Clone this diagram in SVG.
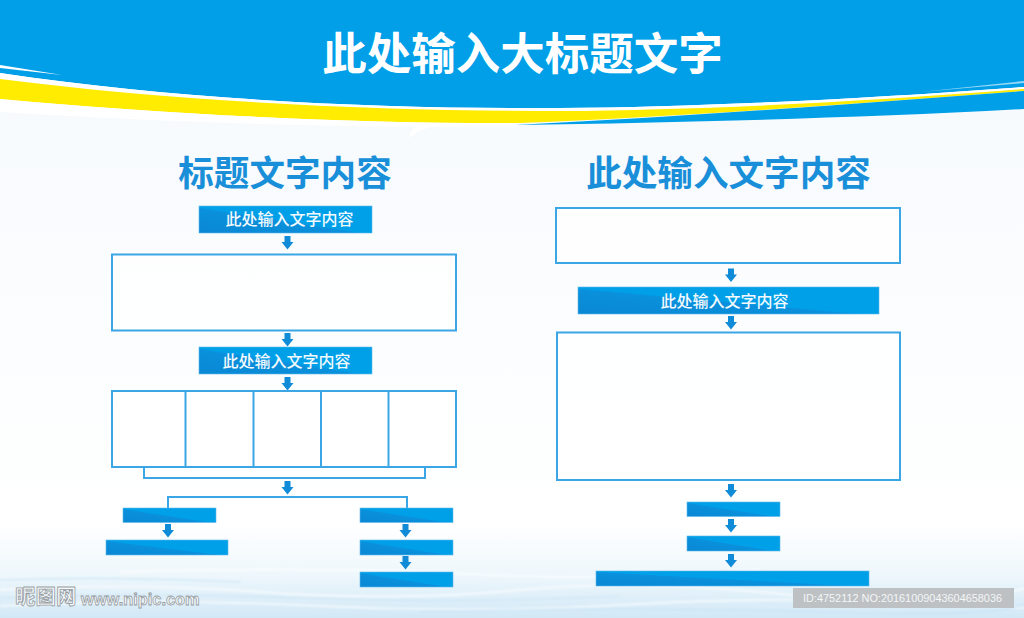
<svg xmlns="http://www.w3.org/2000/svg" width="1024" height="618" viewBox="0 0 1024 618">
<style>
text{font-family:"Noto Sans CJK SC","Liberation Sans",sans-serif}
.frame{fill:#ffffff;fill-opacity:.75;stroke:#3aa6e6;stroke-width:2}
.bar{fill:url(#barFill);stroke:#5fb9ec;stroke-width:.6}
.lbl{fill:#f2fafe;font-size:16px;font-weight:500;text-anchor:middle}
.head{fill:#1a8fd9;font-size:35.6px;font-weight:700;text-anchor:middle}
.line{fill:none;stroke:#3aa6e6;stroke-width:2}
.mark{fill:#f7fafc;stroke:#979da2;stroke-width:.8;font-weight:700}
</style>
<defs>
<linearGradient id="sky" x1="0" y1="0" x2="0" y2="1">
<stop offset="0" stop-color="#f5f9fd"/><stop offset=".5" stop-color="#fbfdfe"/><stop offset=".85" stop-color="#ffffff"/><stop offset=".93" stop-color="#eef7fc"/><stop offset="1" stop-color="#d2e8f6"/>
</linearGradient>
<linearGradient id="barFill" x1="1" y1="0" x2="0" y2="1">
<stop offset="0" stop-color="#00a0e9"/><stop offset=".52" stop-color="#00a0e9"/><stop offset=".55" stop-color="#0a90dc"/><stop offset="1" stop-color="#0a88d4"/>
</linearGradient>
<filter id="soft2" x="-5%" y="-200%" width="110%" height="500%"><feGaussianBlur stdDeviation="1.2"/></filter>
<path id="arr" d="M-3-7H3V-1H6L0 6.500-6-1H-3Z" fill="#0f8bd8"/>
</defs>
<g id="background">
<rect width="1024" height="618" fill="url(#sky)"/>
<path d="M408 138Q420 130 438 124L418 124Q411 130 408 138Z" fill="#ffffff"/>
<g fill="none" stroke="#ffffff" stroke-width="1.5" filter="url(#soft2)" opacity=".85">
<path d="M0 590Q120 582 260 592T520 590T800 596T1024 588"/>
<path d="M0 606Q160 598 320 606T640 604T1024 608"/>
<path d="M120 572Q300 566 470 574T760 570"/>
</g>
<g fill="none" stroke="#c4e1f4" stroke-width="1.200" filter="url(#soft2)" opacity=".8">
<path d="M0 598Q140 592 300 598T620 596"/>
<path d="M420 612Q640 606 820 612T1024 604"/>
<path d="M0 580Q120 576 240 582"/>
</g>
</g>
<g id="banner">
<path d="M0 0H1024V87C860 99 700 107 560 108C380 109 180 100 0 73Z" fill="#009fe8"/>
<path d="M0 73C180 100 380 109 560 108C700 107 860 99 1024 87V89C860 102 700 110 560 111C380 111 180 102 0 79Z" fill="#ffffff"/>
<path d="M0 79C180 102 380 111 560 111C700 110 860 102 1024 89V91C860 103 700 116 520 123C360 124 160 114 0 99Z" fill="#ffec00"/>
<path d="M0 99C160 114 360 124 520 123L515 127C340 128 160 122 0 112Z" fill="#ffffff"/>
<path d="M515 125C700 116 860 103 1024 91V109C860 118 700 122 515 125Z" fill="#009fe8"/>
<path d="M0 65L62 75L0 68Z" fill="#ffffff"/>
<path d="M920 92L1024 81V83Z" fill="#ffffff" opacity=".6"/>
<text id="title" x="522.500" y="70" text-anchor="middle" font-size="44.500" font-weight="700" fill="#ffffff">此处输入大标题文字</text>
</g>
<g id="connectors">
<path class="line" d="M144 467V478H425V467"/>
<path class="line" d="M168 508V497H407V508"/>
<use href="#arr" x="287.500" y="243"/>
<use href="#arr" x="287.500" y="340"/>
<use href="#arr" x="287.500" y="384"/>
<use href="#arr" x="287.500" y="488"/>
<use href="#arr" x="168" y="531"/>
<use href="#arr" x="405.500" y="531"/>
<use href="#arr" x="405.500" y="563"/>
<use href="#arr" x="731" y="275.500"/>
<use href="#arr" x="731" y="323"/>
<use href="#arr" x="731" y="491"/>
<use href="#arr" x="731" y="526"/>
<use href="#arr" x="731" y="561"/>
</g>
<g id="left-column">
<text id="left-heading" class="head" x="285" y="186">标题文字内容</text>
<g id="l-bar-1"><rect class="bar" x="199" y="206" width="173" height="27"/><text class="lbl" x="289.500" y="225">此处输入文字内容</text></g>
<g id="l-box-1"><rect class="frame" x="112" y="254.500" width="344" height="76"/></g>
<g id="l-bar-2"><rect class="bar" x="199" y="347" width="173" height="27"/><text class="lbl" x="286.500" y="367">此处输入文字内容</text></g>
<g id="l-row">
<rect class="frame" x="112" y="391" width="344" height="76"/>
<path class="line" d="M185.500 391V467M253.500 391V467M321 391V467M388.500 391V467"/>
</g>
<g id="l-bar-3"><rect class="bar" x="123" y="508" width="93" height="14.500"/></g>
<g id="l-bar-4"><rect class="bar" x="106" y="540" width="122" height="15"/></g>
<g id="l-bar-5"><rect class="bar" x="360" y="508" width="93" height="14.500"/></g>
<g id="l-bar-6"><rect class="bar" x="360" y="540" width="93" height="15"/></g>
<g id="l-bar-7"><rect class="bar" x="360" y="572" width="93" height="15"/></g>
</g>
<g id="right-column">
<text id="right-heading" class="head" x="728.500" y="186">此处输入文字内容</text>
<g id="r-box-1"><rect class="frame" x="556" y="208" width="344" height="55"/></g>
<g id="r-bar-1"><rect class="bar" x="578" y="287" width="301" height="27"/><text class="lbl" x="724.500" y="307">此处输入文字内容</text></g>
<g id="r-box-2"><rect class="frame" x="557" y="332.500" width="343" height="147.500"/></g>
<g id="r-bar-2"><rect class="bar" x="687" y="502" width="93" height="14.500"/></g>
<g id="r-bar-3"><rect class="bar" x="687" y="536" width="93" height="15"/></g>
<g id="r-bar-4"><rect class="bar" x="596" y="571" width="273" height="15"/></g>
</g>
<g id="watermark">
<text class="mark" x="15" y="604" font-size="20.500">昵图网</text>
<text class="mark" x="81" y="605" font-size="16.400" style="font-family:'Liberation Sans',sans-serif">www.nipic.com</text>
<rect x="793" y="588" width="221" height="20" fill="#bdc1c4"/>
<text x="803" y="602" font-size="10.900" fill="#f4f6f7" style="font-family:'Liberation Sans',sans-serif">ID:4752112 NO:20161009043604658036</text>
</g>
</svg>
